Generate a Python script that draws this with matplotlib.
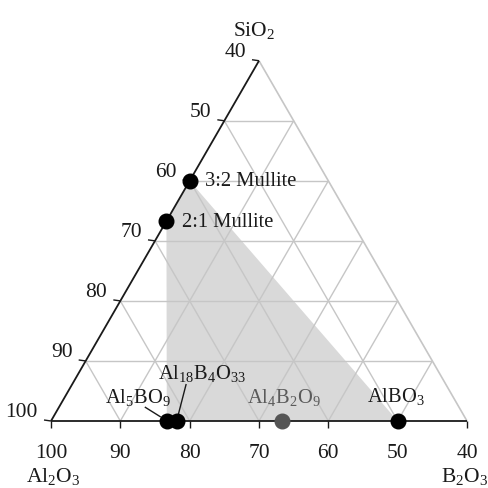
import numpy as np
import matplotlib
matplotlib.use("Agg")
import matplotlib.pyplot as plt
from matplotlib.patches import Polygon

# -----------------------------
# Daten (mol%)
# -----------------------------

tick_values = [100, 90, 80, 70, 60, 50, 40]   # Al2O3 an den Achsen
grid_steps = [10, 20, 30, 40, 50]

phase_names = ["3:2 Mullite", "2:1 Mullite", "Al5BO9", "Al18B4O33", "Al4B2O9", "AlBO3"]
phase_al2o3 = [60.0, 66.7, 83.3, 81.8, 66.7, 50.0]
phase_sio2 = [40.0, 33.3, 0.0, 0.0, 0.0, 0.0]

# Eckpunkte des grauen Bereichs (Indizes in die Phasenliste)
region_idx = [0, 5, 2, 1]

plt.rcParams["font.family"] = ["Liberation Serif", "DejaVu Serif"]
plt.rcParams["mathtext.fontset"] = "custom"
plt.rcParams["mathtext.rm"] = "Liberation Serif"

SPAN = 60.0
PX = 1 / 416.0
LINE_GREY = "#c6c6c6"
DARK = "#1a1a1a"
TICK_FS = 15.5
LABEL_FS = 14.8


def xy(al, si):
    b = 100.0 - al - si
    ub = b / SPAN
    us = si / SPAN
    return ub + us / 2.0, us * np.sqrt(3) / 2.0


def pix(px, py):
    # Bildpixel (von oben links) -> Datenkoordinaten
    return (px - 51) * PX, (422 - py) * PX


def seg(ax, p, q, **kw):
    ax.plot([p[0], q[0]], [p[1], q[1]], solid_capstyle="butt", **kw)


fig = plt.figure(figsize=(4.88, 4.89), dpi=100)
ax = fig.add_axes([0, 0, 1, 1])
ax.set_xlim(-51 * PX, 437 * PX)
ax.set_ylim(-67 * PX, 422 * PX)
ax.axis("off")

# grauer Bereich
verts = [xy(phase_al2o3[i], phase_sio2[i]) for i in region_idx]
ax.add_patch(Polygon(verts, closed=True, facecolor="#d9d9d9", edgecolor="none", zorder=1))

# Gitterlinien
for s in grid_steps:
    seg(ax, xy(100 - s, s), xy(40, s), color=LINE_GREY, lw=1.0, zorder=2)          # SiO2 konstant
    seg(ax, xy(100 - s, 0), xy(40, 60 - s), color=LINE_GREY, lw=1.0, zorder=2)     # B2O3 konstant
    a = 100 - s
    seg(ax, xy(a, 0), xy(a, 100 - a), color=LINE_GREY, lw=1.0, zorder=2)           # Al2O3 konstant

# Dreiecksseiten
seg(ax, xy(40, 0), xy(40, 60), color=LINE_GREY, lw=1.2, zorder=3)
seg(ax, xy(100, 0), xy(40, 60), color=DARK, lw=1.3, zorder=4)
seg(ax, xy(100, 0), xy(40, 0), color=DARK, lw=1.3, zorder=4)

# Ticks und Beschriftungen
for v in tick_values:
    # linke Achse
    x, y = xy(v, 100 - v)
    seg(ax, (x - 7 * PX, y + 1 * PX), (x, y), color=DARK, lw=1.0, zorder=4)
    ax.text(x - 13 * PX, y + 9 * PX, str(v), ha="right", va="center", fontsize=TICK_FS, color=DARK)
    # untere Achse
    x, y = xy(v, 0)
    seg(ax, (x, y), (x, y - 7 * PX), color=DARK, lw=1.0, zorder=4)
    ax.text(x, y - 32 * PX, str(v), ha="center", va="center", fontsize=TICK_FS, color=DARK)

ax.text(*pix(254, 31), r"SiO$_\mathregular{2}$", ha="center", va="center", fontsize=TICK_FS, color=DARK)
ax.text(*pix(53, 477), r"Al$_\mathregular{2}$O$_\mathregular{3}$", ha="center", va="center", fontsize=TICK_FS, color=DARK)
ax.text(*pix(465, 477), r"B$_\mathregular{2}$O$_\mathregular{3}$", ha="center", va="center", fontsize=TICK_FS, color=DARK)

# Phasen
labels = {
    "3:2 Mullite": "3:2 Mullite",
    "2:1 Mullite": "2:1 Mullite",
    "Al5BO9": r"Al$_\mathregular{5}$BO$_\mathregular{9}$",
    "Al18B4O33": r"Al$_\mathregular{18}$B$_\mathregular{4}$O$_\mathregular{33}$",
    "Al4B2O9": r"Al$_\mathregular{4}$B$_\mathregular{2}$O$_\mathregular{9}$",
    "AlBO3": r"AlBO$_\mathregular{3}$",
}
# (Textversatz in px, Ausrichtung, Farbe)
styles = {
    "3:2 Mullite": ((15, 0), "left", DARK),
    "2:1 Mullite": ((16, 0), "left", DARK),
    "Al5BO9": ((-29, 24), "center", DARK),
    "Al18B4O33": ((25, 48), "center", DARK),
    "Al4B2O9": ((2, 24), "center", "#5a5a5a"),
    "AlBO3": ((-2, 25), "center", DARK),
}

for name, al, si in zip(phase_names, phase_al2o3, phase_sio2):
    x, y = xy(al, si)
    (dx, dy), ha, col = styles[name]
    mcol = "#555555" if name == "Al4B2O9" else "black"
    ax.plot([x], [y], "o", color=mcol, ms=10.5, zorder=6)
    ax.text(x + dx * PX, y + dy * PX, labels[name], ha=ha, va="center",
            fontsize=LABEL_FS, color=col, zorder=7)

# Leitlinien
x5, y5 = xy(phase_al2o3[2], 0)
seg(ax, (x5 - 22 * PX, y5 + 14 * PX), (x5 - 6 * PX, y5 + 4 * PX), color=DARK, lw=1.0, zorder=5)
x18, y18 = xy(phase_al2o3[3], 0)
seg(ax, (x18 + 9 * PX, y18 + 37 * PX), (x18 + 1 * PX, y18 + 6 * PX), color=DARK, lw=1.0, zorder=5)

fig.savefig("out.png", dpi=100)
